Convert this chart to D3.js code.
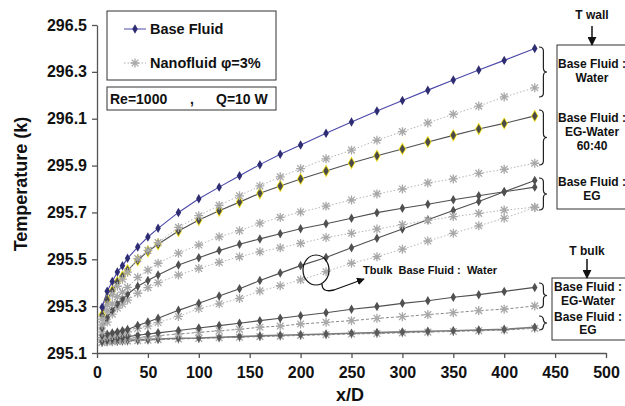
<!DOCTYPE html>
<html><head><meta charset="utf-8">
<script src="https://cdn.jsdelivr.net/npm/d3@7"></script>
<style>
body{margin:0;background:#fff;}
svg{display:block;font-family:"Liberation Sans",Arial,sans-serif;font-weight:bold;}
</style></head>
<body>
<svg id="chart" width="625" height="406"></svg>
<script>
// ---------- DATA ----------
const xValues = [5,10,15,20,25,30,40,50,60,80,100,120,140,160,180,200,225,250,275,300,325,350,375,400,430];
const xTicks = [0,50,100,150,200,250,300,350,400,450,500];
const yTicks = [295.1,295.3,295.5,295.7,295.9,296.1,296.3,296.5];

const wallWaterBase = [295.295,295.364,295.405,295.446,295.472,295.504,295.552,295.595,295.632,295.700,295.758,295.808,295.857,295.904,295.948,295.988,296.038,296.086,296.133,296.178,296.222,296.265,296.308,296.349,296.400];
const wallWaterNano = [295.245,295.305,295.350,295.385,295.415,295.445,295.503,295.538,295.571,295.636,295.686,295.730,295.771,295.813,295.852,295.887,295.929,295.966,296.008,296.045,296.082,296.119,296.154,296.193,296.232];
const wallEGWBase  = [295.262,295.327,295.365,295.403,295.426,295.453,295.496,295.534,295.564,295.621,295.668,295.707,295.744,295.782,295.813,295.843,295.877,295.911,295.942,295.971,296.001,296.029,296.056,296.080,296.112];
const wallEGWNano  = [295.220,295.280,295.310,295.340,295.360,295.380,295.423,295.454,295.483,295.526,295.561,295.596,295.622,295.654,295.679,295.702,295.727,295.753,295.779,295.800,295.826,295.843,295.867,295.884,295.910];
const wallEGBase   = [295.208,295.252,295.283,295.310,295.330,295.351,295.385,295.409,295.433,295.476,295.507,295.537,295.564,295.587,295.609,295.630,295.652,295.675,295.699,295.718,295.735,295.754,295.771,295.788,295.808];
const wallEGNano   = [295.190,295.232,295.266,295.292,295.309,295.326,295.355,295.379,295.400,295.433,295.461,295.487,295.511,295.532,295.549,295.568,295.593,295.611,295.629,295.648,295.666,295.682,295.696,295.710,295.722];
const bulkWaterBase = [295.175,295.180,295.185,295.190,295.195,295.200,295.217,295.232,295.248,295.282,295.312,295.343,295.374,295.409,295.441,295.473,295.508,295.549,295.590,295.629,295.669,295.708,295.747,295.788,295.836];
const bulkWaterNano = [295.165,295.170,295.175,295.180,295.185,295.190,295.205,295.215,295.230,295.256,295.290,295.310,295.333,295.365,295.387,295.412,295.447,295.483,295.511,295.543,295.578,295.611,295.643,295.675,295.721];
const bulkEGWBase  = [295.150,295.155,295.160,295.163,295.166,295.170,295.176,295.181,295.186,295.196,295.207,295.217,295.227,295.238,295.248,295.259,295.272,295.287,295.298,295.312,295.323,295.338,295.349,295.363,295.380];
const bulkEGWNano  = [295.145,295.150,295.153,295.156,295.159,295.162,295.166,295.170,295.174,295.181,295.188,295.195,295.201,295.210,295.215,295.224,295.231,295.238,295.248,295.255,295.264,295.272,295.281,295.287,295.301];
const bulkEGBase   = [295.148,295.150,295.151,295.152,295.153,295.154,295.156,295.158,295.160,295.163,295.164,295.167,295.170,295.173,295.176,295.178,295.181,295.184,295.187,295.190,295.193,295.195,295.198,295.201,295.210];
const bulkEGNano   = [295.145,295.147,295.148,295.149,295.150,295.151,295.153,295.155,295.157,295.160,295.162,295.165,295.167,295.170,295.172,295.175,295.178,295.181,295.183,295.186,295.189,295.192,295.195,295.198,295.205];

// ---------- SETUP ----------
const svg = d3.select("#chart");
const x = d3.scaleLinear().domain([0,500]).range([97,606]);
const y = d3.scaleLinear().domain([295.1,296.5]).range([353,25]);

// asterisk symbol
const asterisk = {
  draw(ctx, size){
    const r = Math.sqrt(size)/2;
    const d = r*0.75;
    ctx.moveTo(-d,-d); ctx.lineTo(d,d);
    ctx.moveTo(-d,d); ctx.lineTo(d,-d);
    ctx.moveTo(0,-r); ctx.lineTo(0,r);
    ctx.moveTo(-r,0); ctx.lineTo(r,0);
  }
};
const diamondPath = d3.symbol().type(d3.symbolDiamond).size(26)();
const diamondBig = d3.symbol().type(d3.symbolDiamond).size(48)();
const astPath = d3.symbol().type(asterisk).size(80)();

// ---------- AXES ----------
const gx = svg.append("g").attr("transform","translate(0,353)")
  .call(d3.axisBottom(x).tickValues(xTicks).tickSize(5).tickSizeOuter(0).tickPadding(6));
const gy = svg.append("g").attr("transform","translate(97,0)")
  .call(d3.axisLeft(y).tickValues(yTicks).tickFormat(d3.format(".1f")).tickSize(5).tickSizeOuter(0).tickPadding(5));
[gx,gy].forEach(g=>{
  g.select(".domain").attr("stroke","#555").attr("stroke-width",1.3);
  g.selectAll(".tick line").attr("stroke","#555").attr("stroke-width",1.3);
  g.selectAll(".tick text").attr("fill","#111").style("font-size","16px").style("font-weight","bold")
   .style("font-family","'Liberation Sans',Arial,sans-serif");
});
gx.selectAll(".tick text").attr("dy","0.85em");

svg.append("text").attr("x",350).attr("y",401).attr("text-anchor","middle")
  .style("font-size","18px").attr("fill","#111").text("x/D");
svg.append("text").attr("transform","translate(27,184) rotate(-90)").attr("text-anchor","middle")
  .style("font-size","18px").attr("fill","#111").text("Temperature (k)");

// ---------- SERIES ----------
const line = d3.line().x((d,i)=>x(xValues[i])).y(d=>y(d));
function drawNano(vals, color, dash){
  svg.append("path").attr("d",line(vals)).attr("fill","none")
    .attr("stroke",color).attr("stroke-width",1).attr("stroke-dasharray",dash);
  svg.append("g").selectAll("path").data(vals).join("path")
    .attr("d",astPath).attr("transform",(d,i)=>`translate(${x(xValues[i])},${y(d)})`)
    .attr("fill","none").attr("stroke","#a8a8a8").attr("stroke-width",1.3);
}
function drawBase(vals, lineColor, markColor, lw, outline){
  svg.append("path").attr("d",line(vals)).attr("fill","none")
    .attr("stroke",lineColor).attr("stroke-width",lw);
  const g = svg.append("g");
  if(outline){
    g.selectAll("path.o").data(vals).join("path").attr("class","o")
      .attr("d",diamondBig).attr("transform",(d,i)=>`translate(${x(xValues[i])},${y(d)})`)
      .attr("fill","#f2e21c");
  }
  g.selectAll("path.m").data(vals).join("path").attr("class","m")
    .attr("d",diamondPath).attr("transform",(d,i)=>`translate(${x(xValues[i])},${y(d)})`)
    .attr("fill",markColor);
}

drawNano(bulkEGNano, "#999", "3,2");
drawBase(bulkEGBase, "#7a7a7a", "#595959", 1.6, false);
drawNano(bulkEGWNano, "#8a8a8a", "3,2");
drawBase(bulkEGWBase, "#505050", "#505050", 1.1, false);
drawNano(bulkWaterNano, "#b5b5b5", "1.5,2");
drawBase(bulkWaterBase, "#505050", "#505050", 1.1, false);
drawNano(wallEGNano, "#b5b5b5", "1.5,2");
drawBase(wallEGBase, "#505050", "#505050", 1.1, false);
drawNano(wallEGWNano, "#b5b5b5", "1.5,2");
drawBase(wallEGWBase, "#505050", "#4a4a4a", 1.1, true);
drawNano(wallWaterNano, "#b5b5b5", "1.5,2");
drawBase(wallWaterBase, "#4a48a8", "#2e2c72", 1.1, false);

// ---------- LEGEND ----------
svg.append("rect").attr("x",107).attr("y",11).attr("width",169).attr("height",69)
  .attr("fill","#fff").attr("stroke","#333").attr("stroke-width",1);
svg.append("line").attr("x1",124).attr("x2",146).attr("y1",29).attr("y2",29).attr("stroke","#6a68b8").attr("stroke-width",1.2);
svg.append("path").attr("d",diamondPath).attr("transform","translate(135,29)").attr("fill","#2e2c72");
svg.append("text").attr("x",150).attr("y",34).style("font-size","14.5px").attr("fill","#111").text("Base Fluid");
svg.append("line").attr("x1",124).attr("x2",146).attr("y1",63).attr("y2",63).attr("stroke","#aaa").attr("stroke-width",1).attr("stroke-dasharray","1.5,2");
svg.append("path").attr("d",astPath).attr("transform","translate(135,63)").attr("fill","none").attr("stroke","#a8a8a8").attr("stroke-width",1.3);
svg.append("text").attr("x",150).attr("y",68).style("font-size","14.5px").attr("fill","#111").text("Nanofluid φ=3%");

svg.append("rect").attr("x",107).attr("y",87).attr("width",169).attr("height",23)
  .attr("fill","#fff").attr("stroke","#333").attr("stroke-width",1);
svg.append("text").attr("x",110).attr("y",104).style("font-size","14px").attr("fill","#111").text("Re=1000");
svg.append("text").attr("x",190).attr("y",104).style("font-size","14px").attr("fill","#111").text(",");
svg.append("text").attr("x",216).attr("y",104).style("font-size","14px").attr("fill","#111").text("Q=10 W");

// ---------- ANNOTATIONS ----------
function brace(x0, y1, y2, w){
  const ym = (y1+y2)/2, x1 = x0 + w*0.55, x2 = x0 + w, q = 4;
  return `M${x0},${y1} Q${x1},${y1} ${x1},${y1+q} L${x1},${ym-q} Q${x1},${ym} ${x2},${ym} Q${x1},${ym} ${x1},${ym+q} L${x1},${y2-q} Q${x1},${y2} ${x0},${y2}`;
}
[[47,97],[110,165],[178,210],[283,308],[316,330]].forEach(b=>{
  svg.append("path").attr("d",brace(539,b[0],b[1],8)).attr("fill","none").attr("stroke","#222").attr("stroke-width",1.2);
});

svg.append("defs").append("marker").attr("id","ah").attr("viewBox","0 0 10 10")
  .attr("refX",9).attr("refY",5).attr("markerWidth",6).attr("markerHeight",6).attr("orient","auto")
  .append("path").attr("d","M0,0 L10,5 L0,10 z").attr("fill","#111");

// T wall box
svg.append("text").attr("x",592).attr("y",19).attr("text-anchor","middle").style("font-size","12px").attr("fill","#111").text("T wall");
svg.append("line").attr("x1",592).attr("x2",592).attr("y1",26).attr("y2",45).attr("stroke","#111").attr("stroke-width",1.5).attr("marker-end","url(#ah)");
svg.append("rect").attr("x",557).attr("y",45).attr("width",90).attr("height",164).attr("fill","none").attr("stroke","#333").attr("stroke-width",1);
[["Base Fluid :",68],["Water",82],["Base Fluid :",122],["EG-Water",136],["60:40",150],["Base Fluid :",186],["EG",200]].forEach(t=>{
  svg.append("text").attr("x",592).attr("y",t[1]).attr("text-anchor","middle").style("font-size","12px").attr("fill","#111").text(t[0]);
});
// T bulk box
svg.append("text").attr("x",587).attr("y",255).attr("text-anchor","middle").style("font-size","12px").attr("fill","#111").text("T bulk");
svg.append("line").attr("x1",587).attr("x2",587).attr("y1",259).attr("y2",278).attr("stroke","#111").attr("stroke-width",1.5).attr("marker-end","url(#ah)");
svg.append("rect").attr("x",552).attr("y",278).attr("width",90).attr("height",62).attr("fill","none").attr("stroke","#333").attr("stroke-width",1);
[["Base Fluid :",291],["EG-Water",305],["Base Fluid :",321],["EG",334]].forEach(t=>{
  svg.append("text").attr("x",588).attr("y",t[1]).attr("text-anchor","middle").style("font-size","12px").attr("fill","#111").text(t[0]);
});

// circle annotation
svg.append("ellipse").attr("cx",316).attr("cy",270).attr("rx",13).attr("ry",15).attr("fill","none").attr("stroke","#111").attr("stroke-width",1.2);
svg.append("path").attr("d","M322,284 Q322,293 334,290 L364,279").attr("fill","none").attr("stroke","#111").attr("stroke-width",1.3).attr("marker-end","url(#ah)");
svg.append("text").attr("x",363).attr("y",274).style("font-size","11px").attr("fill","#111").attr("xml:space","preserve").style("white-space","pre").text("Tbulk  Base Fluid :  Water");
</script>
</body></html>
